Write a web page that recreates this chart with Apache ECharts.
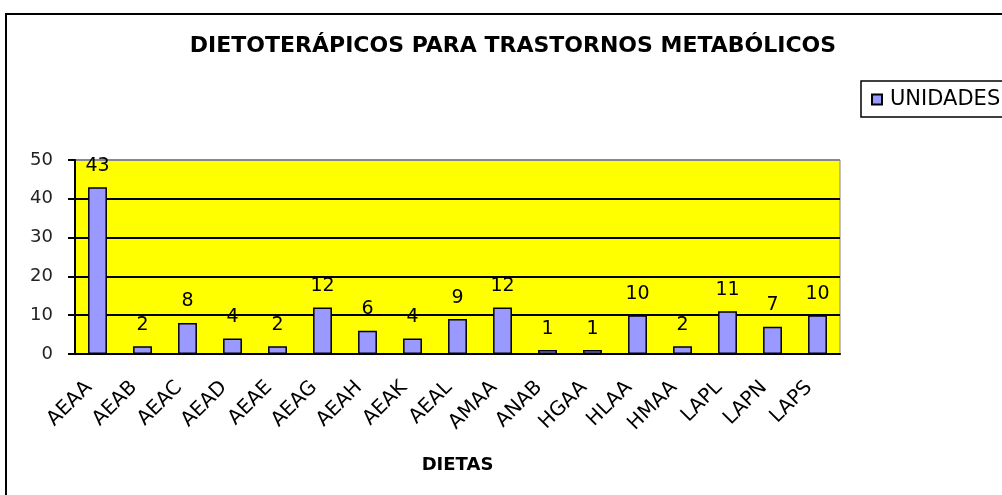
<!DOCTYPE html>
<html>
<head>
<meta charset="utf-8">
<script src="https://cdn.jsdelivr.net/npm/echarts@6/dist/echarts.min.js"></script>
<style>
  html, body { margin: 0; padding: 0; background: #fff; }
  #wrap { position: relative; width: 1002px; height: 495px; overflow: hidden; }
  #frame {
    position: absolute; left: 5px; top: 13px; width: 1100px; height: 600px;
    border: 2px solid #000; box-sizing: border-box;
  }
  #chart { position: absolute; left: 0; top: 0; width: 1002px; height: 495px; }
</style>
</head>
<body>
<div id="wrap">
  <div id="frame"></div>
  <div id="chart"></div>
</div>
<script>
// datos
const dietas = ["AEAA", "AEAB", "AEAC", "AEAD", "AEAE", "AEAG", "AEAH", "AEAK", "AEAL",
  "AMAA", "ANAB", "HGAA", "HLAA", "HMAA", "LAPL", "LAPN", "LAPS"];
const unidades = [43, 2, 8, 4, 2, 12, 6, 4, 9, 12, 1, 1, 10, 2, 11, 7, 10];
const yTicks = [0, 10, 20, 30, 40, 50];

const font = "'DejaVu Sans', Arial, sans-serif";
const chart = echarts.init(document.getElementById("chart"));
const option = {
  animation: false,
  title: {
    text: "DIETOTERÁPICOS PARA TRASTORNOS METABÓLICOS",
    left: 508,
    textAlign: "center",
    top: 30,
    textStyle: { fontFamily: font, fontSize: 22, fontWeight: "bold", color: "#000" },
  },
  legend: {
    data: ["UNIDADES"],
    left: 861,
    top: 81,
    orient: "vertical",
    padding: [8, 40, 7, 10],
    borderColor: "#000",
    borderWidth: 1.5,
    icon: "rect",
    itemWidth: 10,
    itemHeight: 10,
    textStyle: { fontFamily: font, fontSize: 21, color: "#000", padding: [0, 0, 0, 3] },
  },
  grid: {
    left: 75,
    top: 160,
    right: 162,
    bottom: 141,
    show: true,
    backgroundColor: "#ffff00",
    borderColor: "#888",
    borderWidth: 1,
  },
  xAxis: {
    type: "category",
    data: dietas,
    name: "DIETAS",
    nameLocation: "middle",
    nameGap: 102,
    nameTextStyle: { fontFamily: font, fontSize: 18, fontWeight: "bold", color: "#000" },
    axisLine: { lineStyle: { color: "#000", width: 2 } },
    axisTick: { length: 8, lineStyle: { color: "#000", width: 2 } },
    axisLabel: {
      rotate: 45,
      margin: 22,
      padding: [0, 12, 0, 0],
      interval: 0,
      fontFamily: font,
      fontSize: 20,
      color: "#000",
    },
  },
  yAxis: {
    type: "value",
    min: yTicks[0],
    max: yTicks[yTicks.length - 1],
    interval: 10,
    axisLine: { show: true, lineStyle: { color: "#000", width: 2 } },
    axisTick: { show: true, length: 7, lineStyle: { color: "#000", width: 2 } },
    axisLabel: { fontFamily: font, fontSize: 18, color: "#222", margin: 22 },
    splitLine: {
      lineStyle: { color: ["#000", "#000", "#000", "#000", "#000", "#888"], width: 2 },
    },
  },
  series: [
    {
      name: "UNIDADES",
      type: "bar",
      data: unidades,
      barWidth: "42%",
      itemStyle: { color: "#9999ff", borderColor: "#000", borderWidth: 1.5 },
      label: {
        show: true,
        position: "top",
        distance: 12,
        fontFamily: font,
        fontSize: 19,
        color: "#000",
      },
    },
  ],
};
chart.setOption(option);
</script>
</body>
</html>
